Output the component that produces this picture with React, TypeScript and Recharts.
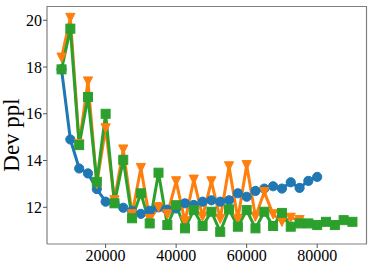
import { LineChart, Line, XAxis, YAxis } from 'recharts'

const blueSteps = [7500, 10000, 12500, 15000, 17500, 20000, 22500, 25000, 27500, 30000, 32500, 35000, 37500, 40000, 42500, 45000, 47500, 50000, 52500, 55000, 57500, 60000, 62500, 65000, 67500, 70000, 72500, 75000, 77500, 80000]
const blueVals = [17.9, 14.9, 13.66, 13.45, 12.78, 12.24, 12.2, 11.98, 11.85, 11.72, 11.85, 12.0, 11.9, 11.95, 12.17, 12.1, 12.24, 12.3, 12.24, 12.3, 12.6, 12.45, 12.7, 12.8, 12.9, 12.8, 13.07, 12.83, 13.13, 13.3]

const orangeSteps = [7500, 10000, 12500, 15000, 17500, 20000, 22500, 25000, 27500, 30000, 32500, 35000, 37500, 40000, 42500, 45000, 47500, 50000, 52500, 55000, 57500, 60000, 62500, 65000, 67500, 70000, 72500, 75000]
const orangeVals = [18.4, 20.1, 14.7, 17.38, 13.0, 15.38, 12.3, 14.47, 11.7, 13.68, 11.5, 12.0, 11.7, 13.11, 11.4, 13.18, 11.6, 13.11, 11.5, 13.75, 11.5, 13.8, 11.6, 12.65, 11.7, 11.38, 11.55, 11.45]

const greenSteps = [7500, 10000, 12500, 15000, 17500, 20000, 22500, 25000, 27500, 30000, 32500, 35000, 37500, 40000, 42500, 45000, 47500, 50000, 52500, 55000, 57500, 60000, 62500, 65000, 67500, 70000, 72500, 75000, 77500, 80000, 82500, 85000, 87500, 90000]
const greenVals = [17.9, 19.64, 14.66, 16.72, 13.09, 16.0, 12.17, 14.03, 11.53, 12.6, 11.31, 13.48, 11.24, 12.09, 11.1, 11.88, 11.2, 11.81, 10.95, 11.91, 11.17, 11.88, 11.1, 11.81, 11.2, 11.76, 11.17, 11.31, 11.31, 11.24, 11.38, 11.24, 11.45, 11.38]

const xTicks = [20000, 40000, 60000, 80000]
const yTicks = [12, 14, 16, 18, 20]
const xDomain = [3375, 94125]
const yDomain = [10.43, 20.61]

const BLUE = '#1f77b4'
const ORANGE = '#ff7f0e'
const GREEN = '#2ca02c'
const FRAME = '#808080'
const FONT = '"Liberation Serif", serif'

// chart box
const W = 374
const H = 270
const M = { top: 6, right: 7, bottom: 0, left: 0 }
const Y_AXIS_W = 47
const X_AXIS_H = 26
const PLOT = {
  x: M.left + Y_AXIS_W,
  y: M.top,
  w: W - M.left - M.right - Y_AXIS_W,
  h: H - M.top - M.bottom - X_AXIS_H,
}

const toRows = (steps: number[], vals: number[]) => steps.map((x, i) => ({ x, y: vals[i] }))

const blueData = toRows(blueSteps, blueVals)
const orangeData = toRows(orangeSteps, orangeVals)
const greenData = toRows(greenSteps, greenVals)

function CircleDot(props: any) {
  const { cx, cy } = props
  if (cx == null || cy == null) return null
  return <circle cx={cx} cy={cy} r={4.6} fill={BLUE} stroke={BLUE} strokeWidth={1} />
}

function TriDot(props: any) {
  const { cx, cy } = props
  if (cx == null || cy == null) return null
  const h = 4.6
  return (
    <polygon
      points={`${cx - h},${cy - h} ${cx + h},${cy - h} ${cx},${cy + h}`}
      fill={ORANGE}
      stroke={ORANGE}
      strokeWidth={1}
    />
  )
}

function SquareDot(props: any) {
  const { cx, cy } = props
  if (cx == null || cy == null) return null
  return <rect x={cx - 4.5} y={cy - 4.5} width={9} height={9} fill={GREEN} stroke={GREEN} strokeWidth={1} />
}

function XTick(props: any) {
  const { x, y, payload } = props
  return (
    <text x={x} y={y} dy="0.71em" textAnchor="middle" fontFamily={FONT} fontSize={16} fill="#000">
      {payload.value}
    </text>
  )
}

function YTick(props: any) {
  const { x, y, payload } = props
  return (
    <text x={x} y={y} dy="0.355em" textAnchor="end" fontFamily={FONT} fontSize={16} fill="#000">
      {payload.value}
    </text>
  )
}

// axis title, plus the top and right spines of the box
function YLabel() {
  const cx = 19
  const cy = PLOT.y + PLOT.h / 2 + 10
  const right = PLOT.x + PLOT.w - 0.5
  return (
    <g>
      <line x1={PLOT.x} y1={PLOT.y + 0.5} x2={right} y2={PLOT.y + 0.5} stroke={FRAME} strokeWidth={1.2} />
      <line x1={right} y1={PLOT.y} x2={right} y2={PLOT.y + PLOT.h} stroke={FRAME} strokeWidth={1.2} />
      <text
        x={cx}
        y={cy}
        transform={`rotate(-90, ${cx}, ${cy})`}
        textAnchor="middle"
        fontFamily={FONT}
        fontSize={23}
        fill="#000"
      >
        Dev ppl
      </text>
    </g>
  )
}

export default function App() {
  return (
    <div style={{ position: 'absolute', left: 0, top: 0, width: W, height: H, background: '#fff' }}>
      <LineChart width={W} height={H} margin={M}>
        <XAxis
          type="number"
          dataKey="x"
          domain={xDomain}
          ticks={xTicks}
          height={X_AXIS_H}
          tick={<XTick />}
          tickSize={4}
          tickMargin={2}
          axisLine={{ stroke: FRAME, strokeWidth: 1.2 }}
          tickLine={{ stroke: '#555' }}
          allowDataOverflow
        />
        <YAxis
          type="number"
          domain={yDomain}
          ticks={yTicks}
          width={Y_AXIS_W}
          tick={<YTick />}
          tickSize={4}
          tickMargin={1}
          axisLine={{ stroke: FRAME, strokeWidth: 1.2 }}
          tickLine={{ stroke: '#555' }}
          allowDataOverflow
          label={<YLabel />}
        />
        <Line
          data={blueData}
          dataKey="y"
          stroke={BLUE}
          strokeWidth={3}
          dot={<CircleDot />}
          activeDot={false}
          isAnimationActive={false}
        />
        <Line
          data={orangeData}
          dataKey="y"
          stroke={ORANGE}
          strokeWidth={3}
          dot={<TriDot />}
          activeDot={false}
          isAnimationActive={false}
        />
        <Line
          data={greenData}
          dataKey="y"
          stroke={GREEN}
          strokeWidth={3}
          dot={<SquareDot />}
          activeDot={false}
          isAnimationActive={false}
        />
      </LineChart>
    </div>
  )
}
